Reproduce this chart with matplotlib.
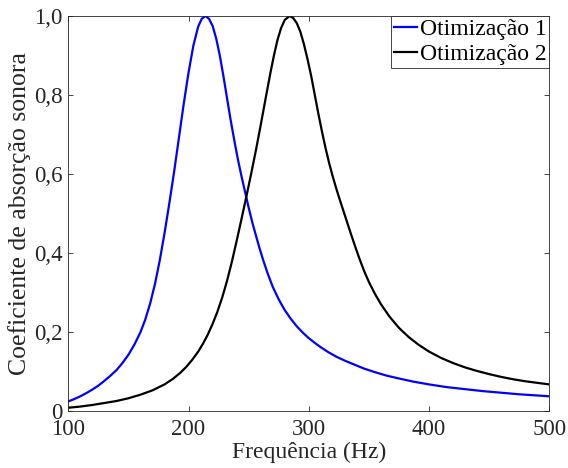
import matplotlib
matplotlib.use("Agg")
import matplotlib.pyplot as plt

# Otimização 1 (blue)
freq1 = [100, 105, 110, 115, 120, 125, 130, 135, 140, 145, 150, 155, 160, 164, 168, 172, 176, 180,
         184, 188, 192, 196, 200, 204, 208, 211, 214, 217, 220, 223, 226, 229, 232, 235, 238, 241,
         244, 247, 250, 253, 256, 259, 262, 266, 270, 275, 280, 285, 290, 295, 300, 305, 310, 316,
         323, 330, 338, 346, 355, 365, 375, 387, 400, 415, 430, 445, 460, 475, 490, 500]
alpha1 = [0.025, 0.031, 0.038, 0.046, 0.055, 0.065, 0.077, 0.090, 0.104, 0.122, 0.143, 0.169, 0.200, 0.232, 0.272, 0.321, 0.381, 0.450,
          0.526, 0.606, 0.692, 0.778, 0.857, 0.925, 0.973, 0.993, 1.0, 0.993, 0.975, 0.943, 0.900, 0.848, 0.792, 0.737, 0.686, 0.638,
          0.595, 0.555, 0.515, 0.478, 0.445, 0.413, 0.383, 0.347, 0.315, 0.283, 0.256, 0.234, 0.215, 0.199, 0.185, 0.173, 0.162, 0.150,
          0.138, 0.128, 0.118, 0.108, 0.099, 0.090, 0.083, 0.075, 0.068, 0.061, 0.056, 0.051, 0.047, 0.043, 0.040, 0.038]

# Otimização 2 (black)
freq2 = [100, 110, 120, 130, 140, 150, 160, 170, 180, 187, 193, 198, 203, 208, 212, 216, 220, 224, 228,
         232, 236, 240, 244, 248, 252, 256, 260, 264, 268, 271, 274, 277, 280, 284, 287, 290, 293, 296,
         299, 302, 305, 308, 311, 314, 317, 320, 323, 326, 329, 332, 335, 338, 342, 346, 350, 355, 360,
         367, 375, 383, 391, 400, 410, 420, 430, 440, 450, 460, 470, 480, 490, 500]
alpha2 = [0.009, 0.012, 0.016, 0.021, 0.026, 0.033, 0.042, 0.053, 0.068, 0.082, 0.097, 0.112, 0.130, 0.151, 0.171, 0.194, 0.221, 0.252, 0.288,
          0.330, 0.378, 0.431, 0.486, 0.542, 0.600, 0.660, 0.724, 0.790, 0.855, 0.900, 0.940, 0.970, 0.990, 1.0, 0.995, 0.982, 0.960, 0.928,
          0.890, 0.848, 0.800, 0.752, 0.707, 0.665, 0.627, 0.593, 0.562, 0.533, 0.505, 0.477, 0.449, 0.422, 0.387, 0.355, 0.327, 0.297, 0.271,
          0.240, 0.211, 0.188, 0.169, 0.151, 0.135, 0.122, 0.111, 0.102, 0.094, 0.087, 0.081, 0.076, 0.072, 0.068]

xticks = [100, 200, 300, 400, 500]
yticks = [0, 0.2, 0.4, 0.6, 0.8, 1.0]
ytick_labels = ["0", "0,2", "0,4", "0,6", "0,8", "1,0"]

plt.rcParams['font.family'] = ['Liberation Serif', 'DejaVu Serif']

axcol = '#262626'
fig = plt.figure(figsize=(5.68, 4.68), dpi=100)
ax = fig.add_axes([68.3/568, 1 - 411.3/468, (549.3-68.3)/568, (411.3-16)/468])

ax.plot(freq1, alpha1, color='#0000ff', lw=1.6, label='Otimização 1', solid_joinstyle='round')
ax.plot(freq2, alpha2, color='black', lw=1.6, label='Otimização 2', solid_joinstyle='round')

ax.set_xlim(100, 500)
ax.set_ylim(0, 1)
ax.set_xticks(xticks)
ax.set_xticklabels([str(t) for t in xticks])
ax.set_yticks(yticks)
ax.set_yticklabels(ytick_labels)
ax.tick_params(direction='in', top=True, right=True, length=3.5, width=0.6,
               labelsize=16.5, colors=axcol)
ax.tick_params(axis='x', pad=5.5)
ax.tick_params(axis='y', pad=4)
for s in ax.spines.values():
    s.set_color(axcol)
    s.set_linewidth(0.6)

ax.set_xlabel('Frequência (Hz)', fontsize=17, color=axcol, labelpad=1)
ax.set_ylabel('Coeficiente de absorção sonora', fontsize=18.5, color=axcol, labelpad=2)

leg = ax.legend(loc='upper right', fontsize=17, frameon=True, fancybox=False,
                borderaxespad=0, borderpad=0.12, handlelength=1.0, handletextpad=0.1,
                labelspacing=0.15, framealpha=1)
leg.get_frame().set_edgecolor(axcol)
leg.get_frame().set_linewidth(0.6)

fig.savefig('out.png', dpi=100)
